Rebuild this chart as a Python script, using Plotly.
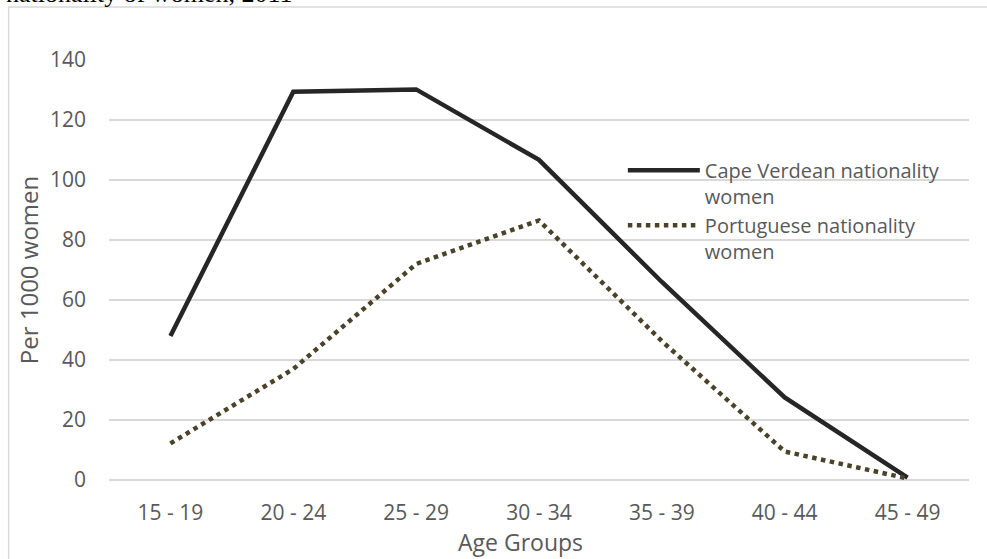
import plotly.graph_objects as go

age_groups = ["15 - 19", "20 - 24", "25 - 29", "30 - 34", "35 - 39", "40 - 44", "45 - 49"]
cape_verdean = [48, 129.4, 130.2, 106.7, 66, 27.5, 0.8]
portuguese = [12.2, 37, 72, 86.5, 46.3, 9.5, 0.5]
y_ticks = [0, 20, 40, 60, 80, 100, 120, 140]

FONT = "Open Sans"
GREY = "#595959"

fig = go.Figure()
fig.add_trace(go.Scatter(
    x=age_groups, y=cape_verdean, mode="lines",
    name="Cape Verdean nationality<br>women",
    line=dict(color="#262626", width=4.5),
))
fig.add_trace(go.Scatter(
    x=age_groups, y=portuguese, mode="lines",
    name="Portuguese nationality<br>women",
    line=dict(color="#4b4329", width=4.5, dash="dot"),
))

fig.update_layout(
    width=987, height=559,
    margin=dict(l=108.5, r=17.5, t=60, b=79),
    paper_bgcolor="white", plot_bgcolor="white",
    font=dict(family=FONT, size=20, color=GREY),
    showlegend=True,
    legend=dict(
        x=0.5975, y=0.784, xanchor="left", yanchor="top",
        bgcolor="rgba(0,0,0,0)", valign="top",
        itemwidth=72, font=dict(family=FONT, size=20, color=GREY),
        tracegroupgap=0,
    ),
    xaxis=dict(
        type="category", range=[-0.5, 6.5],
        showgrid=False, showline=False, zeroline=False,
        ticks="", ticklabelstandoff=18, tickfont=dict(size=21, color=GREY),
    ),
    yaxis=dict(
        range=[0, 140], tickvals=y_ticks,
        showgrid=True, gridcolor="#d9d9d9", gridwidth=1.5,
        zeroline=True, zerolinecolor="#d9d9d9", zerolinewidth=1.5,
        showline=False, ticks="", ticklabelstandoff=22,
        tickfont=dict(size=21, color=GREY),
        title=dict(text="Per 1000 women", font=dict(size=24, color=GREY), standoff=4),
    ),
    annotations=[
        dict(
            text="nationality of women, 2011", xref="paper", yref="paper",
            x=-0.1225, y=1.158, xanchor="left", yanchor="middle", showarrow=False,
            font=dict(family="Liberation Serif", size=26, color="black"),
        ),
        dict(
            text="Age Groups", xref="paper", yref="paper",
            x=0.479, y=-0.147, xanchor="center", yanchor="middle", showarrow=False,
            font=dict(family=FONT, size=23, color=GREY),
        ),
    ],
    shapes=[dict(
        type="rect", xref="paper", yref="paper",
        x0=-0.1167, x1=1.1, y0=-0.3, y1=1.126,
        line=dict(color="#d9d9d9", width=1.5), layer="below",
    )],
)

fig.write_html("out.html", config={"displayModeBar": False},
               post_script="document.body.style.margin='0';")
